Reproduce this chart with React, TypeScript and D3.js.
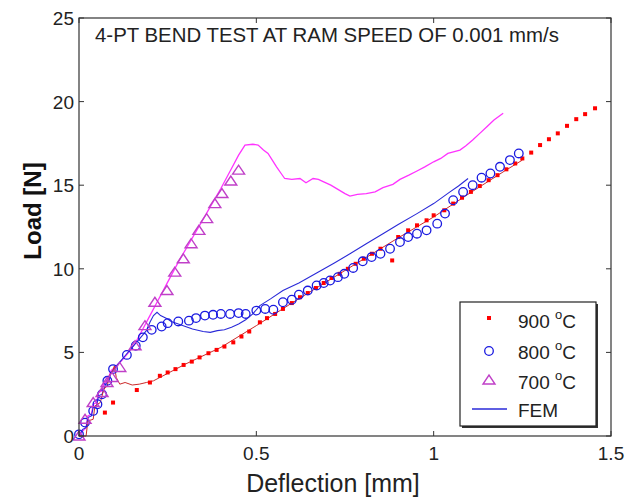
import React from "react";
import * as d3 from "d3";

const title = "4-PT BEND TEST AT RAM SPEED OF 0.001 mm/s";
const xLabel = "Deflection [mm]";
const yLabel = "Load [N]";
const xTicks = [0, 0.5, 1, 1.5];
const yTicks = [0, 5, 10, 15, 20, 25];
const legendLabels = ["900", "800", "700", "FEM"];

// 900 C measured points [deflection, load]
const dots900: [number, number][] = [
  [0.073, 1.4], [0.096, 2.0], [0.163, 2.75], [0.2, 3.2], [0.228, 3.6], [0.25, 3.8],
  [0.272, 4.0], [0.295, 4.25], [0.318, 4.45], [0.34, 4.7], [0.365, 4.95], [0.388, 5.15],
  [0.41, 5.35], [0.435, 5.6], [0.458, 5.95], [0.48, 6.25], [0.51, 6.8], [0.53, 7.05],
  [0.553, 7.3], [0.575, 7.6], [0.6, 7.95], [0.623, 8.3], [0.645, 8.55], [0.668, 8.85],
  [0.69, 9.15], [0.712, 9.45], [0.735, 9.7], [0.758, 10.0], [0.78, 10.3], [0.803, 10.6],
  [0.826, 10.9], [0.85, 11.2], [0.883, 10.5], [0.9, 11.9], [0.928, 12.3], [0.953, 12.6],
  [0.98, 12.9], [1.0, 13.2], [1.03, 13.5], [1.055, 13.9], [1.08, 14.25], [1.105, 14.6],
  [1.13, 14.95], [1.155, 15.3], [1.18, 15.6], [1.205, 15.95], [1.23, 16.3], [1.25, 16.6],
  [1.275, 16.95], [1.3, 17.4], [1.325, 17.75], [1.35, 18.1], [1.376, 18.55], [1.402, 18.95],
  [1.427, 19.25], [1.455, 19.6],
];

// 900 C thin line
const line900: [number, number][] = [
  [0.0, 0.0], [0.02, 0.0], [0.025, 0.9], [0.04, 1.0], [0.045, 1.8], [0.06, 2.0],
  [0.07, 2.8], [0.08, 3.0], [0.085, 3.6], [0.095, 3.9], [0.1, 4.2], [0.105, 3.5],
  [0.115, 3.1], [0.13, 3.2], [0.15, 3.05], [0.17, 3.1], [0.19, 3.2], [0.21, 3.3],
  [0.3, 4.3], [0.4, 5.3], [0.5, 6.6], [0.6, 7.95], [0.7, 9.25], [0.8, 10.55],
  [0.9, 11.85], [1.0, 13.1], [1.1, 14.5], [1.2, 15.85], [1.25, 16.5],
];

// 800 C measured points
const circles800: [number, number][] = [
  [0.0, 0.1], [0.017, 0.8], [0.04, 1.5], [0.052, 1.9], [0.065, 2.5], [0.08, 3.3],
  [0.096, 4.0], [0.135, 4.85], [0.16, 5.4], [0.18, 5.9], [0.205, 6.35], [0.233, 6.55],
  [0.25, 6.75], [0.28, 6.85], [0.31, 6.9], [0.33, 7.05], [0.355, 7.2], [0.378, 7.25],
  [0.4, 7.3], [0.426, 7.3], [0.45, 7.35], [0.47, 7.3], [0.5, 7.5], [0.525, 7.6],
  [0.548, 7.55], [0.575, 8.0], [0.6, 8.15], [0.62, 8.45], [0.645, 8.7], [0.67, 9.0],
  [0.69, 9.15], [0.708, 9.3], [0.73, 9.5], [0.748, 9.7], [0.773, 10.05], [0.8, 10.45],
  [0.825, 10.7], [0.85, 10.9], [0.877, 11.2], [0.905, 11.6], [0.928, 11.9], [0.953, 12.1],
  [0.98, 12.3], [1.01, 12.7], [1.032, 13.3], [1.055, 14.1], [1.083, 14.6], [1.11, 15.0],
  [1.135, 15.45], [1.16, 15.7], [1.187, 16.1], [1.215, 16.5], [1.24, 16.9],
];

// FEM prediction
const femLine: [number, number][] = [
  [0.0, 0.0], [0.01, 0.4], [0.02, 0.5], [0.025, 1.1], [0.035, 1.2], [0.04, 1.7],
  [0.05, 1.8], [0.055, 2.4], [0.065, 2.5], [0.075, 3.1], [0.085, 3.3], [0.09, 3.8],
  [0.1, 4.0], [0.11, 4.3], [0.13, 4.8], [0.15, 5.3], [0.17, 5.8], [0.19, 6.3],
  [0.2, 6.8], [0.21, 7.2], [0.22, 7.4], [0.23, 7.2], [0.24, 7.1], [0.25, 7.0],
  [0.26, 6.85], [0.28, 6.7], [0.3, 6.55], [0.32, 6.4], [0.35, 6.25], [0.37, 6.2],
  [0.39, 6.3], [0.41, 6.35], [0.43, 6.5], [0.45, 6.7], [0.47, 6.95], [0.49, 7.3],
  [0.51, 7.8], [0.54, 8.2], [0.575, 8.7], [0.62, 9.15], [0.67, 9.75], [0.72, 10.35],
  [0.764, 10.9], [0.81, 11.5], [0.857, 12.1], [0.9, 12.65], [0.953, 13.3], [1.0, 13.9],
  [1.046, 14.6], [1.07, 14.95], [1.097, 15.4],
];

// 700 C measured points
const triangles700: [number, number][] = [
  [0.0, 0.0], [0.017, 1.0], [0.04, 2.0], [0.065, 2.6], [0.079, 3.2], [0.093, 3.5],
  [0.115, 4.1], [0.158, 5.4], [0.186, 6.6], [0.214, 8.0], [0.248, 8.7], [0.27, 9.8],
  [0.294, 10.6], [0.316, 11.5], [0.338, 12.3], [0.36, 13.0], [0.383, 13.9], [0.403, 14.5],
  [0.428, 15.25], [0.45, 15.9],
];

// 700 C line
const line700: [number, number][] = [
  [0.0, 0.0], [0.01, 0.3], [0.02, 0.5], [0.025, 1.2], [0.035, 1.3], [0.04, 1.9],
  [0.05, 2.0], [0.055, 2.6], [0.065, 2.7], [0.07, 3.1], [0.08, 3.3], [0.09, 3.9],
  [0.1, 4.1], [0.12, 4.5], [0.14, 5.0], [0.16, 5.6], [0.18, 6.4], [0.2, 7.2],
  [0.22, 8.0], [0.25, 9.2], [0.28, 10.4], [0.31, 11.5], [0.34, 12.6], [0.37, 13.7],
  [0.4, 14.8], [0.43, 16.0], [0.45, 16.8], [0.468, 17.4], [0.49, 17.45], [0.505, 17.4],
  [0.52, 17.1], [0.533, 16.9], [0.545, 16.5], [0.557, 16.1], [0.57, 15.7], [0.58, 15.4],
  [0.6, 15.35], [0.623, 15.4], [0.64, 15.15], [0.66, 15.4], [0.675, 15.35], [0.69, 15.2],
  [0.71, 15.0], [0.73, 14.75], [0.75, 14.5], [0.764, 14.35], [0.785, 14.45], [0.81, 14.5],
  [0.835, 14.6], [0.857, 14.85], [0.885, 15.05], [0.905, 15.35], [0.93, 15.6], [0.953, 15.85],
  [0.975, 16.1], [1.0, 16.4], [1.02, 16.6], [1.04, 16.9], [1.074, 17.1], [1.09, 17.35],
  [1.11, 17.7], [1.13, 18.1], [1.15, 18.5], [1.17, 18.9], [1.196, 19.3],
];

const W = 629;
const H = 499;
const M = { left: 79, top: 18, right: 611, bottom: 436 };
const FONT = "'Liberation Sans', Arial, Helvetica, sans-serif";
const AX = "#333";

export default function App() {
  const x = d3.scaleLinear().domain([0, 1.5]).range([M.left, M.right]);
  const y = d3.scaleLinear().domain([0, 25]).range([M.bottom, M.top]);
  const line = d3
    .line<[number, number]>()
    .x((d) => x(d[0]))
    .y((d) => y(d[1]));
  const tri = (cx: number, cy: number) =>
    `M${cx - 6},${cy + 4} L${cx + 6},${cy + 4} L${cx},${cy - 5} Z`;
  const tick = 5;

  const lx = 489;
  const ltx = 518;
  const rows = [328, 359, 389, 417];

  return (
    <div style={{ position: "absolute", left: 0, top: 0 }}>
      <svg width={W} height={H} style={{ display: "block", background: "#fff" }} fontFamily={FONT}>
        <defs>
          <clipPath id="plot">
            <rect x={M.left - 6} y={M.top} width={M.right - M.left + 6} height={M.bottom - M.top + 6} />
          </clipPath>
        </defs>

        {/* data */}
        <g clipPath="url(#plot)">
          <path d={line(line700) || ""} fill="none" stroke="#ff33ff" strokeWidth={1.3} />
          <path d={line(femLine) || ""} fill="none" stroke="#2a2ad8" strokeWidth={1.1} />
          <path d={line(line900) || ""} fill="none" stroke="#cc2a2a" strokeWidth={1} />
          {dots900.map((d, i) => (
            <rect key={"r" + i} x={x(d[0]) - 2} y={y(d[1]) - 2} width={4} height={4} fill="#ff0000" />
          ))}
          {circles800.map((d, i) => (
            <circle key={"c" + i} cx={x(d[0])} cy={y(d[1])} r={4.3} fill="none" stroke="#1a1ae0" strokeWidth={1.3} />
          ))}
          {triangles700.map((d, i) => (
            <path key={"t" + i} d={tri(x(d[0]), y(d[1]))} fill="none" stroke="#c040c8" strokeWidth={1.4} />
          ))}
        </g>

        {/* axes box */}
        <rect x={M.left} y={M.top} width={M.right - M.left} height={M.bottom - M.top} fill="none" stroke={AX} strokeWidth={1.2} />
        {xTicks.map((t) => (
          <g key={"xt" + t}>
            <line x1={x(t)} x2={x(t)} y1={M.bottom} y2={M.bottom - tick} stroke={AX} />
            <line x1={x(t)} x2={x(t)} y1={M.top} y2={M.top + tick} stroke={AX} />
            <text x={x(t)} y={M.bottom + 24} textAnchor="middle" fontSize={19} fill="#222">
              {d3.format("~g")(t)}
            </text>
          </g>
        ))}
        {yTicks.map((t) => (
          <g key={"yt" + t}>
            <line x1={M.left} x2={M.left + tick} y1={y(t)} y2={y(t)} stroke={AX} />
            <line x1={M.right} x2={M.right - tick} y1={y(t)} y2={y(t)} stroke={AX} />
            <text x={M.left - 5} y={y(t) + 7} textAnchor="end" fontSize={19} fill="#222">
              {t}
            </text>
          </g>
        ))}

        {/* title */}
        <text x={95} y={42} fontSize={20.4} fill="#222">{title}</text>

        {/* axis labels */}
        <text x={333} y={492} textAnchor="middle" fontSize={25} fill="#222">{xLabel}</text>
        <text transform={`translate(41,211) rotate(-90)`} textAnchor="middle" fontSize={24} fontWeight="bold" fill="#111">
          {yLabel}
        </text>

        {/* legend */}
        <rect x={462} y={304} width={136} height={124} fill="#333" />
        <rect x={460} y={302} width={136} height={124} fill="#fff" stroke="#222" strokeWidth={1.2} />
        <rect x={lx - 2} y={rows[0] - 10 - 2} width={4} height={4} fill="#ff0000" />
        <circle cx={lx} cy={rows[1] - 8} r={4.3} fill="none" stroke="#1a1ae0" strokeWidth={1.3} />
        <path d={tri(lx, rows[2] - 9)} fill="none" stroke="#c040c8" strokeWidth={1.4} />
        <line x1={472} x2={507} y1={rows[3] - 8} y2={rows[3] - 8} stroke="#2a2ad8" strokeWidth={1.6} />
        {legendLabels.map((l, i) =>
          i < 3 ? (
            <text key={l} x={ltx} y={rows[i]} fontSize={19} fill="#222">
              {l + " "}
              <tspan fontSize={13} dy={-9}>o</tspan>
              <tspan dy={9}>C</tspan>
            </text>
          ) : (
            <text key={l} x={ltx} y={rows[i]} fontSize={19} fill="#222">{l}</text>
          )
        )}
      </svg>
    </div>
  );
}
